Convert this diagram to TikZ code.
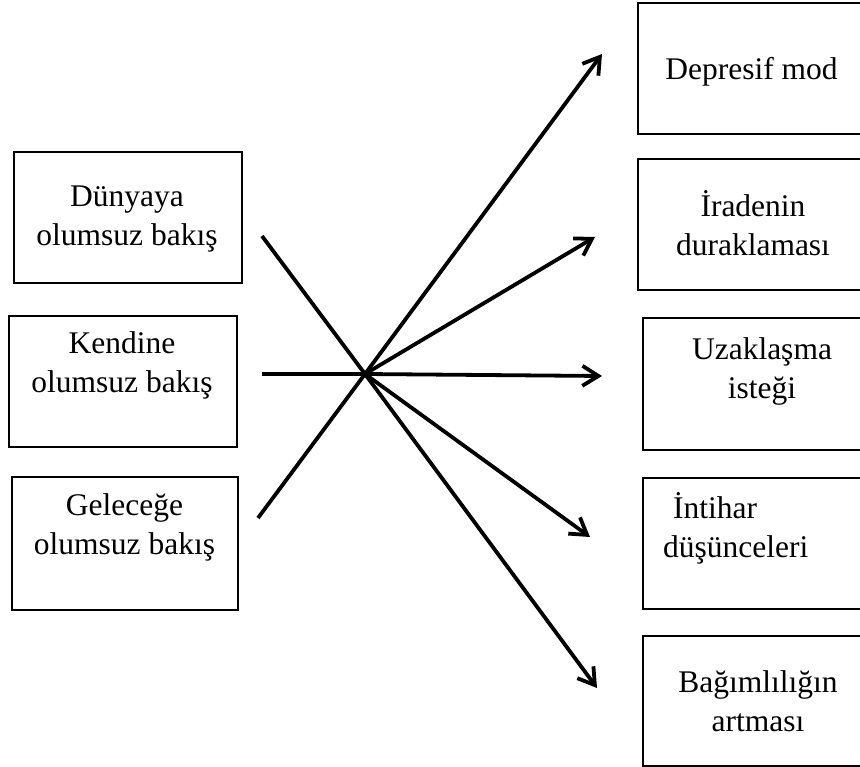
\documentclass[tikz,border=0pt]{standalone}
\usepackage{fontspec}
\setmainfont{Liberation Serif}
\usetikzlibrary{arrows.meta}
\begin{document}
\begin{tikzpicture}[x=1pt,y=-1pt,
  box/.style={draw, line width=2.6pt, rectangle, inner sep=0pt},
  lbl/.style={font=\fontsize{31.5}{39}\selectfont, align=center, anchor=base, inner sep=0pt},
  arr/.style={line width=3.8pt, line join=round, -{Straight Barb[length=16pt,width=20pt]}}]
\clip (0,0) rectangle (860,767);
% left boxes
\node[box, minimum width=228pt, minimum height=131pt] (b1) at (128,217.5) {};
\node[box, minimum width=228pt, minimum height=131pt] (b2) at (123,381.5) {};
\node[box, minimum width=226pt, minimum height=133pt] (b3) at (125,543.5) {};
% right boxes
\node[box, minimum width=242pt, minimum height=131pt] (r1) at (759,68.5) {};
\node[box, minimum width=242pt, minimum height=131pt] (r2) at (759,224.5) {};
\node[box, minimum width=242pt, minimum height=132pt] (r3) at (764,384) {};
\node[box, minimum width=242pt, minimum height=131pt] (r4) at (764,543.5) {};
\node[box, minimum width=242pt, minimum height=130pt] (r5) at (764,701) {};
% texts (anchor base = last line's baseline)
\node[lbl] (t1) at (127,246) {Dünyaya\\olumsuz bakış};
\node[lbl] (t2) at (122,392) {Kendine\\olumsuz bakış};
\node[lbl] (t3) at (124.5,554) {Geleceğe\\olumsuz bakış};
\node[lbl] (u1) at (751.5,80) {Depresif mod};
\node[lbl] (u2) at (753,256) {İradenin\\duraklaması};
\node[lbl] (u3) at (762,399) {Uzaklaşma\\isteği};
\node[lbl, align=left, anchor=base west] (u4) at (663,557) {\hspace*{10pt}İntihar\\düşünceleri};
\node[lbl] (u5) at (758,731) {Bağımlılığın\\artması};
% connectors
\coordinate (c) at (365,374);
\coordinate (s1) at (262,236);
\coordinate (s2) at (262,374);
\coordinate (s3) at (258,518);
\coordinate (e1) at (602,54);
\coordinate (e2) at (595,237);
\coordinate (e3) at (602,376);
\coordinate (e4) at (590,537);
\coordinate (e5) at (597,688);
\draw[arr] (s1) -- (c) -- (e5);
\draw[arr] (s3) -- (c) -- (e1);
\draw[arr] (s2) -- (c) -- (e3);
\draw[arr] (c) -- (e2);
\draw[arr] (c) -- (e4);
\end{tikzpicture}
\end{document}
